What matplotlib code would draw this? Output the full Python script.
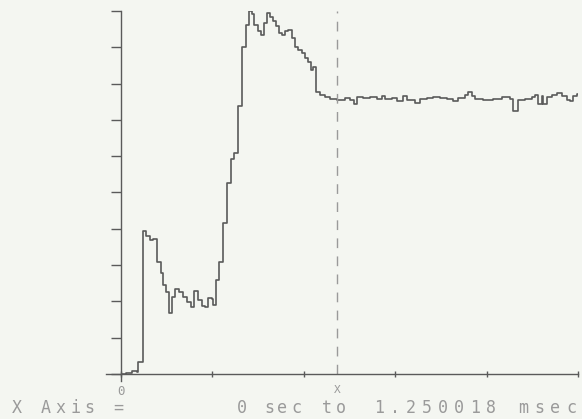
import numpy as np
import matplotlib
matplotlib.use("Agg")
from matplotlib import pyplot as plt

# trace: time (ms) and level (divisions), step held after each point
t_ms = [0.000, 0.014, 0.030, 0.044, 0.046, 0.059, 0.068, 0.079, 0.088, 0.098,
        0.109, 0.115, 0.123, 0.131, 0.139, 0.148, 0.159, 0.170, 0.181, 0.191,
        0.200, 0.211, 0.222, 0.230, 0.238, 0.249, 0.252, 0.260, 0.268, 0.279,
        0.290, 0.301, 0.309, 0.320, 0.331, 0.342, 0.350, 0.358, 0.364, 0.375,
        0.383, 0.391, 0.399, 0.408, 0.416, 0.424, 0.432, 0.440, 0.449, 0.457,
        0.468, 0.476, 0.484, 0.495, 0.503, 0.511, 0.520, 0.525, 0.533, 0.544,
        0.558, 0.572, 0.591, 0.613, 0.626, 0.637, 0.645, 0.662, 0.681, 0.700,
        0.714, 0.722, 0.741, 0.755, 0.771, 0.782, 0.804, 0.818, 0.837, 0.853,
        0.872, 0.891, 0.908, 0.921, 0.941, 0.949, 0.960, 0.968, 0.990, 1.017,
        1.042, 1.064, 1.072, 1.086, 1.105, 1.124, 1.132, 1.140, 1.151, 1.154,
        1.165, 1.179, 1.192, 1.206, 1.220, 1.228, 1.236, 1.247, 1.250]
level = [0.01, 0.03, 0.08, 0.06, 0.33, 3.94, 3.80, 3.69, 3.72, 3.09,
         2.78, 2.45, 2.26, 1.68, 2.12, 2.34, 2.26, 2.12, 1.98, 1.85,
         2.29, 2.04, 1.87, 1.85, 2.09, 2.07, 1.90, 2.59, 3.09, 4.16,
         5.26, 5.92, 6.09, 7.38, 9.01, 9.61, 10.0, 9.92, 9.61, 9.45,
         9.34, 9.67, 9.94, 9.83, 9.72, 9.59, 9.39, 9.34, 9.45, 9.48,
         9.26, 9.01, 8.93, 8.84, 8.71, 8.60, 8.37, 8.46, 7.77, 7.69,
         7.63, 7.58, 7.55, 7.60, 7.55, 7.44, 7.63, 7.60, 7.63, 7.58,
         7.66, 7.58, 7.60, 7.52, 7.66, 7.55, 7.47, 7.58, 7.60, 7.63,
         7.60, 7.58, 7.52, 7.60, 7.69, 7.77, 7.66, 7.58, 7.55, 7.58,
         7.63, 7.58, 7.24, 7.55, 7.58, 7.63, 7.69, 7.44, 7.66, 7.44,
         7.63, 7.69, 7.74, 7.66, 7.55, 7.52, 7.66, 7.71, 7.71]

x_start, x_end = 0.0, 1.250018
x_ticks = [0.0, 0.25, 0.5, 0.75, 1.0, 1.25]
y_ticks = list(range(0, 11))
cursor_ms = 0.591
footer_words = ["X Axis =", "0 sec", "to", "1.250018 msec"]
footer_x = [12, 237, 322, 374]
footer_pitch = [14.5, 13.5, 14.0, 16.0]

bg = "#f4f6f1"
ink = "#5a5a5a"
pale = "#9a9a9a"

fig = plt.figure(figsize=(5.82, 4.19), dpi=100, facecolor=bg)
ax = fig.add_axes([121 / 582, 1 - 374 / 419, 457 / 582, 363 / 419])
ax.set_facecolor(bg)

ax.step(t_ms, level, where="post", color=ink, lw=1.2)
ax.axvline(cursor_ms, ymin=0, ymax=1, color=pale, lw=1.0, dashes=(7, 6))

ax.set_xlim(x_start, x_end)
ax.set_ylim(0, 10)
ax.set_xticks(x_ticks)
ax.set_yticks(y_ticks)
ax.set_xticklabels([])
ax.set_yticklabels([])
ax.tick_params(axis="y", direction="out", length=7, width=1, color=ink)
ax.tick_params(axis="x", direction="inout", length=4, width=1, color=ink)
for side in ["top", "right"]:
    ax.spines[side].set_visible(False)
for side in ["left", "bottom"]:
    ax.spines[side].set_color(ink)
    ax.spines[side].set_linewidth(1.0)
ax.spines["bottom"].set_bounds(-0.04, x_end)

# small labels under the axis
ax.plot([0, 0], [0, -0.2], color=ink, lw=1, clip_on=False)
ax.text(0, -0.3, "0", ha="center", va="top", fontsize=9, color=pale,
        family="DejaVu Sans Mono")
ax.text(cursor_ms, -0.3, "X", ha="center", va="top", fontsize=8, color=pale,
        family="DejaVu Sans Mono")

# footer line, drawn one character at a time on a wide pitch
for word, x0, pitch in zip(footer_words, footer_x, footer_pitch):
    for i, ch in enumerate(word):
        fig.text((x0 + i * pitch) / 582, 1 - 408 / 419, ch, ha="left", va="center",
                 fontsize=12, color=pale, family="DejaVu Sans Mono")

fig.savefig("out.png", dpi=100, facecolor=bg)
